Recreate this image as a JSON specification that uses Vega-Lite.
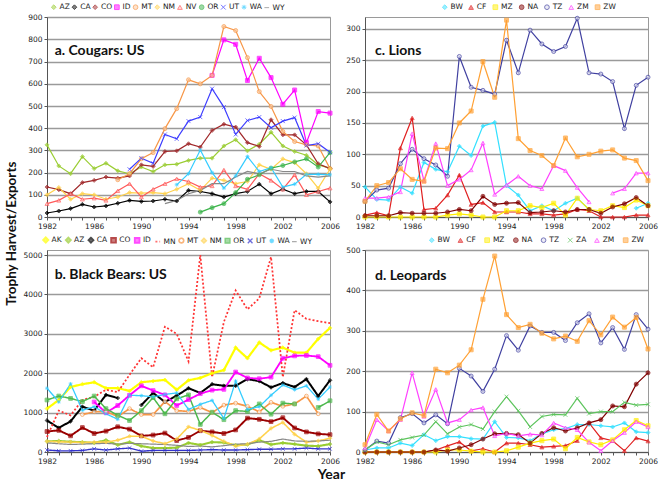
{
"$schema":"https://vega.github.io/schema/vega-lite/v6.json",
"padding":{"left":4,"top":2,"right":2,"bottom":2},
"background":"white",
"config":{
 "font":"DejaVu Sans",
 "view":{"stroke":"#9a9a9a","strokeWidth":1},
 "axis":{"labelFont":"DejaVu Sans","labelFontSize":7.5,"labelColor":"#222","tickColor":"#555","domainColor":"#555","tickSize":3,"labelPadding":2,"gridColor":"#9a9a9a","gridWidth":1.4,"title":null,"labelOverlap":false},
 "legend":{"labelFont":"DejaVu Sans","labelFontSize":7.5,"labelColor":"#222"}
},
"datasets":{
"cougars":[
{"yr":1982,"s":"AZ","v":325},{"yr":1983,"s":"AZ","v":230},{"yr":1984,"s":"AZ","v":195},{"yr":1985,"s":"AZ","v":272},{"yr":1986,"s":"AZ","v":218},{"yr":1987,"s":"AZ","v":242},{"yr":1988,"s":"AZ","v":208},{"yr":1989,"s":"AZ","v":195},{"yr":1990,"s":"AZ","v":225},{"yr":1991,"s":"AZ","v":205},{"yr":1992,"s":"AZ","v":235},{"yr":1993,"s":"AZ","v":238},{"yr":1994,"s":"AZ","v":255},{"yr":1995,"s":"AZ","v":265},{"yr":1996,"s":"AZ","v":265},{"yr":1997,"s":"AZ","v":320},{"yr":1998,"s":"AZ","v":348},{"yr":1999,"s":"AZ","v":298},{"yr":2000,"s":"AZ","v":328},{"yr":2001,"s":"AZ","v":382},{"yr":2002,"s":"AZ","v":320},{"yr":2003,"s":"AZ","v":295},{"yr":2004,"s":"AZ","v":278},{"yr":2005,"s":"AZ","v":235},{"yr":2006,"s":"AZ","v":220},
{"yr":1982,"s":"CA","v":18},{"yr":1983,"s":"CA","v":27},{"yr":1984,"s":"CA","v":38},{"yr":1985,"s":"CA","v":57},{"yr":1986,"s":"CA","v":45},{"yr":1987,"s":"CA","v":50},{"yr":1988,"s":"CA","v":62},{"yr":1989,"s":"CA","v":75},{"yr":1990,"s":"CA","v":70},{"yr":1991,"s":"CA","v":72},{"yr":1992,"s":"CA","v":80},{"yr":1993,"s":"CA","v":72},{"yr":1994,"s":"CA","v":120},{"yr":1995,"s":"CA","v":115},{"yr":1996,"s":"CA","v":105},{"yr":1997,"s":"CA","v":90},{"yr":1998,"s":"CA","v":105},{"yr":1999,"s":"CA","v":115},{"yr":2000,"s":"CA","v":148},{"yr":2001,"s":"CA","v":105},{"yr":2002,"s":"CA","v":125},{"yr":2003,"s":"CA","v":105},{"yr":2004,"s":"CA","v":115},{"yr":2005,"s":"CA","v":115},{"yr":2006,"s":"CA","v":68},
{"yr":1982,"s":"CO","v":135},{"yr":1983,"s":"CO","v":123},{"yr":1984,"s":"CO","v":105},{"yr":1985,"s":"CO","v":155},{"yr":1986,"s":"CO","v":165},{"yr":1987,"s":"CO","v":180},{"yr":1988,"s":"CO","v":175},{"yr":1989,"s":"CO","v":185},{"yr":1990,"s":"CO","v":235},{"yr":1991,"s":"CO","v":228},{"yr":1992,"s":"CO","v":295},{"yr":1993,"s":"CO","v":298},{"yr":1994,"s":"CO","v":330},{"yr":1995,"s":"CO","v":315},{"yr":1996,"s":"CO","v":390},{"yr":1997,"s":"CO","v":418},{"yr":1998,"s":"CO","v":405},{"yr":1999,"s":"CO","v":335},{"yr":2000,"s":"CO","v":318},{"yr":2001,"s":"CO","v":438},{"yr":2002,"s":"CO","v":370},{"yr":2003,"s":"CO","v":370},{"yr":2004,"s":"CO","v":325},{"yr":2005,"s":"CO","v":240},{"yr":2006,"s":"CO","v":218},
{"yr":1996,"s":"ID","v":638},{"yr":1997,"s":"ID","v":798},{"yr":1998,"s":"ID","v":778},{"yr":1999,"s":"ID","v":615},{"yr":2000,"s":"ID","v":715},{"yr":2001,"s":"ID","v":628},{"yr":2002,"s":"ID","v":508},{"yr":2003,"s":"ID","v":572},{"yr":2004,"s":"ID","v":335},{"yr":2005,"s":"ID","v":475},{"yr":2006,"s":"ID","v":468},
{"yr":1988,"s":"MT","v":168},{"yr":1989,"s":"MT","v":195},{"yr":1990,"s":"MT","v":262},{"yr":1991,"s":"MT","v":290},{"yr":1992,"s":"MT","v":398},{"yr":1993,"s":"MT","v":488},{"yr":1994,"s":"MT","v":618},{"yr":1995,"s":"MT","v":600},{"yr":1996,"s":"MT","v":638},{"yr":1997,"s":"MT","v":858},{"yr":1998,"s":"MT","v":840},{"yr":1999,"s":"MT","v":718},{"yr":2000,"s":"MT","v":565},{"yr":2001,"s":"MT","v":498},{"yr":2002,"s":"MT","v":385},{"yr":2003,"s":"MT","v":340},{"yr":2004,"s":"MT","v":325},{"yr":2005,"s":"MT","v":320},{"yr":2006,"s":"MT","v":218},
{"yr":1982,"s":"NM","v":100},{"yr":1983,"s":"NM","v":133},{"yr":1984,"s":"NM","v":80},{"yr":1985,"s":"NM","v":105},{"yr":1986,"s":"NM","v":100},{"yr":1987,"s":"NM","v":80},{"yr":1988,"s":"NM","v":90},{"yr":1989,"s":"NM","v":110},{"yr":1990,"s":"NM","v":108},{"yr":1991,"s":"NM","v":110},{"yr":1992,"s":"NM","v":105},{"yr":1993,"s":"NM","v":125},{"yr":1994,"s":"NM","v":150},{"yr":1995,"s":"NM","v":120},{"yr":1996,"s":"NM","v":175},{"yr":1997,"s":"NM","v":165},{"yr":1998,"s":"NM","v":150},{"yr":1999,"s":"NM","v":160},{"yr":2000,"s":"NM","v":235},{"yr":2001,"s":"NM","v":215},{"yr":2002,"s":"NM","v":262},{"yr":2003,"s":"NM","v":245},{"yr":2004,"s":"NM","v":195},{"yr":2005,"s":"NM","v":130},{"yr":2006,"s":"NM","v":215},
{"yr":1982,"s":"NV","v":60},{"yr":1983,"s":"NV","v":75},{"yr":1984,"s":"NV","v":105},{"yr":1985,"s":"NV","v":80},{"yr":1986,"s":"NV","v":85},{"yr":1987,"s":"NV","v":75},{"yr":1988,"s":"NV","v":118},{"yr":1989,"s":"NV","v":150},{"yr":1990,"s":"NV","v":90},{"yr":1991,"s":"NV","v":125},{"yr":1992,"s":"NV","v":150},{"yr":1993,"s":"NV","v":172},{"yr":1994,"s":"NV","v":160},{"yr":1995,"s":"NV","v":135},{"yr":1996,"s":"NV","v":140},{"yr":1997,"s":"NV","v":212},{"yr":1998,"s":"NV","v":140},{"yr":1999,"s":"NV","v":125},{"yr":2000,"s":"NV","v":195},{"yr":2001,"s":"NV","v":165},{"yr":2002,"s":"NV","v":125},{"yr":2003,"s":"NV","v":190},{"yr":2004,"s":"NV","v":100},{"yr":2005,"s":"NV","v":115},{"yr":2006,"s":"NV","v":130},
{"yr":1995,"s":"OR","v":22},{"yr":1996,"s":"OR","v":42},{"yr":1997,"s":"OR","v":60},{"yr":1998,"s":"OR","v":110},{"yr":1999,"s":"OR","v":170},{"yr":2000,"s":"OR","v":190},{"yr":2001,"s":"OR","v":220},{"yr":2002,"s":"OR","v":232},{"yr":2003,"s":"OR","v":248},{"yr":2004,"s":"OR","v":262},{"yr":2005,"s":"OR","v":225},{"yr":2006,"s":"OR","v":290},
{"yr":1989,"s":"UT","v":215},{"yr":1990,"s":"UT","v":265},{"yr":1991,"s":"UT","v":242},{"yr":1992,"s":"UT","v":372},{"yr":1993,"s":"UT","v":352},{"yr":1994,"s":"UT","v":432},{"yr":1995,"s":"UT","v":450},{"yr":1996,"s":"UT","v":578},{"yr":1997,"s":"UT","v":495},{"yr":1998,"s":"UT","v":372},{"yr":1999,"s":"UT","v":435},{"yr":2000,"s":"UT","v":450},{"yr":2001,"s":"UT","v":402},{"yr":2002,"s":"UT","v":432},{"yr":2003,"s":"UT","v":448},{"yr":2004,"s":"UT","v":322},{"yr":2005,"s":"UT","v":330},{"yr":2006,"s":"UT","v":292},
{"yr":1993,"s":"WA","v":145},{"yr":1994,"s":"WA","v":195},{"yr":1995,"s":"WA","v":302},{"yr":1996,"s":"WA","v":200},{"yr":1997,"s":"WA","v":130},{"yr":1998,"s":"WA","v":185},{"yr":1999,"s":"WA","v":272},{"yr":2000,"s":"WA","v":205},{"yr":2001,"s":"WA","v":222},{"yr":2002,"s":"WA","v":135},{"yr":2003,"s":"WA","v":148},{"yr":2004,"s":"WA","v":192},{"yr":2005,"s":"WA","v":192},{"yr":2006,"s":"WA","v":190},
{"yr":1992,"s":"WY","v":60},{"yr":1993,"s":"WY","v":75},{"yr":1994,"s":"WY","v":105},{"yr":1995,"s":"WY","v":120},{"yr":1996,"s":"WY","v":150},{"yr":1997,"s":"WY","v":150},{"yr":1998,"s":"WY","v":180},{"yr":1999,"s":"WY","v":205},{"yr":2000,"s":"WY","v":195},{"yr":2001,"s":"WY","v":215},{"yr":2002,"s":"WY","v":205},{"yr":2003,"s":"WY","v":205},{"yr":2004,"s":"WY","v":185},{"yr":2005,"s":"WY","v":180},{"yr":2006,"s":"WY","v":185}
],
"bears":[
{"yr":1982,"s":"AK","v":1100},{"yr":1983,"s":"AK","v":1320},{"yr":1984,"s":"AK","v":1650},{"yr":1985,"s":"AK","v":1720},{"yr":1986,"s":"AK","v":1770},{"yr":1987,"s":"AK","v":1620},{"yr":1988,"s":"AK","v":1620},{"yr":1989,"s":"AK","v":1550},{"yr":1990,"s":"AK","v":1770},{"yr":1991,"s":"AK","v":1800},{"yr":1992,"s":"AK","v":1830},{"yr":1993,"s":"AK","v":1580},{"yr":1994,"s":"AK","v":1820},{"yr":1995,"s":"AK","v":1880},{"yr":1996,"s":"AK","v":2000},{"yr":1997,"s":"AK","v":2080},{"yr":1998,"s":"AK","v":2650},{"yr":1999,"s":"AK","v":2380},{"yr":2000,"s":"AK","v":2780},{"yr":2001,"s":"AK","v":2580},{"yr":2002,"s":"AK","v":2650},{"yr":2003,"s":"AK","v":2520},{"yr":2004,"s":"AK","v":2520},{"yr":2005,"s":"AK","v":2870},{"yr":2006,"s":"AK","v":3150},
{"yr":1982,"s":"AZ","v":270},{"yr":1983,"s":"AZ","v":280},{"yr":1984,"s":"AZ","v":260},{"yr":1985,"s":"AZ","v":250},{"yr":1986,"s":"AZ","v":230},{"yr":1987,"s":"AZ","v":300},{"yr":1988,"s":"AZ","v":180},{"yr":1989,"s":"AZ","v":250},{"yr":1990,"s":"AZ","v":150},{"yr":1991,"s":"AZ","v":100},{"yr":1992,"s":"AZ","v":100},{"yr":1993,"s":"AZ","v":110},{"yr":1994,"s":"AZ","v":230},{"yr":1995,"s":"AZ","v":180},{"yr":1996,"s":"AZ","v":250},{"yr":1997,"s":"AZ","v":240},{"yr":1998,"s":"AZ","v":170},{"yr":1999,"s":"AZ","v":190},{"yr":2000,"s":"AZ","v":300},{"yr":2001,"s":"AZ","v":190},{"yr":2002,"s":"AZ","v":230},{"yr":2003,"s":"AZ","v":200},{"yr":2004,"s":"AZ","v":160},{"yr":2005,"s":"AZ","v":150},{"yr":2006,"s":"AZ","v":200},
{"yr":1982,"s":"CA","v":800},{"yr":1983,"s":"CA","v":610},{"yr":1984,"s":"CA","v":780},{"yr":1985,"s":"CA","v":1150},{"yr":1986,"s":"CA","v":1050},{"yr":1987,"s":"CA","v":1450},{"yr":1988,"s":"CA","v":1370},{"yr":1989,"s":"CA","v":null},{"yr":1990,"s":"CA","v":1190},{"yr":1991,"s":"CA","v":1500},{"yr":1992,"s":"CA","v":1270},{"yr":1993,"s":"CA","v":1430},{"yr":1994,"s":"CA","v":1620},{"yr":1995,"s":"CA","v":1500},{"yr":1996,"s":"CA","v":1720},{"yr":1997,"s":"CA","v":1680},{"yr":1998,"s":"CA","v":1680},{"yr":1999,"s":"CA","v":1850},{"yr":2000,"s":"CA","v":1800},{"yr":2001,"s":"CA","v":1640},{"yr":2002,"s":"CA","v":1750},{"yr":2003,"s":"CA","v":1650},{"yr":2004,"s":"CA","v":1850},{"yr":2005,"s":"CA","v":1420},{"yr":2006,"s":"CA","v":1820},
{"yr":1982,"s":"CO","v":520},{"yr":1983,"s":"CO","v":550},{"yr":1984,"s":"CO","v":410},{"yr":1985,"s":"CO","v":620},{"yr":1986,"s":"CO","v":470},{"yr":1987,"s":"CO","v":530},{"yr":1988,"s":"CO","v":640},{"yr":1989,"s":"CO","v":580},{"yr":1990,"s":"CO","v":410},{"yr":1991,"s":"CO","v":430},{"yr":1992,"s":"CO","v":480},{"yr":1993,"s":"CO","v":290},{"yr":1994,"s":"CO","v":370},{"yr":1995,"s":"CO","v":540},{"yr":1996,"s":"CO","v":510},{"yr":1997,"s":"CO","v":470},{"yr":1998,"s":"CO","v":560},{"yr":1999,"s":"CO","v":860},{"yr":2000,"s":"CO","v":830},{"yr":2001,"s":"CO","v":770},{"yr":2002,"s":"CO","v":870},{"yr":2003,"s":"CO","v":610},{"yr":2004,"s":"CO","v":510},{"yr":2005,"s":"CO","v":460},{"yr":2006,"s":"CO","v":440},
{"yr":1986,"s":"ID","v":1270},{"yr":1987,"s":"ID","v":1000},{"yr":1988,"s":"ID","v":1180},{"yr":1989,"s":"ID","v":1440},{"yr":1990,"s":"ID","v":1680},{"yr":1991,"s":"ID","v":1560},{"yr":1992,"s":"ID","v":1450},{"yr":1993,"s":"ID","v":1180},{"yr":1994,"s":"ID","v":1330},{"yr":1995,"s":"ID","v":1480},{"yr":1996,"s":"ID","v":1570},{"yr":1997,"s":"ID","v":1590},{"yr":1998,"s":"ID","v":2030},{"yr":1999,"s":"ID","v":1880},{"yr":2000,"s":"ID","v":1860},{"yr":2001,"s":"ID","v":1900},{"yr":2002,"s":"ID","v":2380},{"yr":2003,"s":"ID","v":2440},{"yr":2004,"s":"ID","v":2450},{"yr":2005,"s":"ID","v":2420},{"yr":2006,"s":"ID","v":2200},
{"yr":1982,"s":"MN","v":380},{"yr":1983,"s":"MN","v":1050},{"yr":1984,"s":"MN","v":930},{"yr":1985,"s":"MN","v":1320},{"yr":1986,"s":"MN","v":1400},{"yr":1987,"s":"MN","v":1580},{"yr":1988,"s":"MN","v":1520},{"yr":1989,"s":"MN","v":1960},{"yr":1990,"s":"MN","v":2380},{"yr":1991,"s":"MN","v":2150},{"yr":1992,"s":"MN","v":3180},{"yr":1993,"s":"MN","v":3000},{"yr":1994,"s":"MN","v":2300},{"yr":1995,"s":"MN","v":5000},{"yr":1996,"s":"MN","v":1900},{"yr":1997,"s":"MN","v":3300},{"yr":1998,"s":"MN","v":4100},{"yr":1999,"s":"MN","v":3620},{"yr":2000,"s":"MN","v":3900},{"yr":2001,"s":"MN","v":4950},{"yr":2002,"s":"MN","v":1900},{"yr":2003,"s":"MN","v":3600},{"yr":2004,"s":"MN","v":3380},{"yr":2005,"s":"MN","v":3320},{"yr":2006,"s":"MN","v":3270},
{"yr":1985,"s":"MT","v":950},{"yr":1986,"s":"MT","v":1020},{"yr":1987,"s":"MT","v":1030},{"yr":1988,"s":"MT","v":900},{"yr":1989,"s":"MT","v":1100},{"yr":1990,"s":"MT","v":950},{"yr":1991,"s":"MT","v":950},{"yr":1992,"s":"MT","v":1280},{"yr":1993,"s":"MT","v":1050},{"yr":1994,"s":"MT","v":1030},{"yr":1995,"s":"MT","v":1130},{"yr":1996,"s":"MT","v":1000},{"yr":1997,"s":"MT","v":1190},{"yr":1998,"s":"MT","v":1240},{"yr":1999,"s":"MT","v":1160},{"yr":2000,"s":"MT","v":1020},{"yr":2001,"s":"MT","v":1260},{"yr":2002,"s":"MT","v":1160},{"yr":2003,"s":"MT","v":1220},{"yr":2004,"s":"MT","v":1420},{"yr":2005,"s":"MT","v":970},
{"yr":1982,"s":"NM","v":270},{"yr":1983,"s":"NM","v":260},{"yr":1984,"s":"NM","v":250},{"yr":1985,"s":"NM","v":240},{"yr":1986,"s":"NM","v":250},{"yr":1987,"s":"NM","v":250},{"yr":1988,"s":"NM","v":300},{"yr":1989,"s":"NM","v":400},{"yr":1990,"s":"NM","v":400},{"yr":1991,"s":"NM","v":280},{"yr":1992,"s":"NM","v":210},{"yr":1993,"s":"NM","v":330},{"yr":1994,"s":"NM","v":640},{"yr":1995,"s":"NM","v":550},{"yr":1996,"s":"NM","v":420},{"yr":1997,"s":"NM","v":270},{"yr":1998,"s":"NM","v":150},{"yr":1999,"s":"NM","v":200},{"yr":2000,"s":"NM","v":330},{"yr":2001,"s":"NM","v":600},{"yr":2002,"s":"NM","v":750},{"yr":2003,"s":"NM","v":450},{"yr":2004,"s":"NM","v":250},{"yr":2005,"s":"NM","v":280},{"yr":2006,"s":"NM","v":350},
{"yr":1982,"s":"OR","v":1320},{"yr":1983,"s":"OR","v":1420},{"yr":1984,"s":"OR","v":1360},{"yr":1985,"s":"OR","v":1280},{"yr":1986,"s":"OR","v":1420},{"yr":1987,"s":"OR","v":1100},{"yr":1988,"s":"OR","v":930},{"yr":1989,"s":"OR","v":800},{"yr":1990,"s":"OR","v":1050},{"yr":1991,"s":"OR","v":1380},{"yr":1992,"s":"OR","v":970},{"yr":1993,"s":"OR","v":1350},{"yr":1994,"s":"OR","v":1450},{"yr":1995,"s":"OR","v":700},{"yr":1996,"s":"OR","v":1010},{"yr":1997,"s":"OR","v":820},{"yr":1998,"s":"OR","v":1050},{"yr":1999,"s":"OR","v":1030},{"yr":2000,"s":"OR","v":1220},{"yr":2001,"s":"OR","v":960},{"yr":2002,"s":"OR","v":1240},{"yr":2003,"s":"OR","v":1220},{"yr":2004,"s":"OR","v":null},{"yr":2005,"s":"OR","v":1130},{"yr":2006,"s":"OR","v":1300},
{"yr":1982,"s":"UT","v":50},{"yr":1983,"s":"UT","v":30},{"yr":1984,"s":"UT","v":30},{"yr":1985,"s":"UT","v":40},{"yr":1986,"s":"UT","v":80},{"yr":1987,"s":"UT","v":50},{"yr":1988,"s":"UT","v":80},{"yr":1989,"s":"UT","v":100},{"yr":1990,"s":"UT","v":20},{"yr":1991,"s":"UT","v":40},{"yr":1992,"s":"UT","v":40},{"yr":1993,"s":"UT","v":40},{"yr":1994,"s":"UT","v":40},{"yr":1995,"s":"UT","v":50},{"yr":1996,"s":"UT","v":60},{"yr":1997,"s":"UT","v":50},{"yr":1998,"s":"UT","v":50},{"yr":1999,"s":"UT","v":60},{"yr":2000,"s":"UT","v":70},{"yr":2001,"s":"UT","v":70},{"yr":2002,"s":"UT","v":80},{"yr":2003,"s":"UT","v":80},{"yr":2004,"s":"UT","v":100},{"yr":2005,"s":"UT","v":80},{"yr":2006,"s":"UT","v":80},
{"yr":1982,"s":"WA","v":1620},{"yr":1983,"s":"WA","v":1270},{"yr":1984,"s":"WA","v":1730},{"yr":1985,"s":"WA","v":1060},{"yr":1986,"s":"WA","v":1150},{"yr":1987,"s":"WA","v":970},{"yr":1988,"s":"WA","v":830},{"yr":1989,"s":"WA","v":1440},{"yr":1990,"s":"WA","v":1430},{"yr":1991,"s":"WA","v":1400},{"yr":1992,"s":"WA","v":1460},{"yr":1993,"s":"WA","v":1500},{"yr":1994,"s":"WA","v":1080},{"yr":1995,"s":"WA","v":1210},{"yr":1996,"s":"WA","v":1310},{"yr":1997,"s":"WA","v":850},{"yr":1998,"s":"WA","v":1800},{"yr":1999,"s":"WA","v":1080},{"yr":2000,"s":"WA","v":1150},{"yr":2001,"s":"WA","v":1440},{"yr":2002,"s":"WA","v":1700},{"yr":2003,"s":"WA","v":1580},{"yr":2004,"s":"WA","v":1680},{"yr":2005,"s":"WA","v":1340},{"yr":2006,"s":"WA","v":1650},
{"yr":1982,"s":"WY","v":230},{"yr":1983,"s":"WY","v":210},{"yr":1984,"s":"WY","v":190},{"yr":1985,"s":"WY","v":200},{"yr":1986,"s":"WY","v":210},{"yr":1987,"s":"WY","v":220},{"yr":1988,"s":"WY","v":200},{"yr":1989,"s":"WY","v":220},{"yr":1990,"s":"WY","v":210},{"yr":1991,"s":"WY","v":200},{"yr":1992,"s":"WY","v":190},{"yr":1993,"s":"WY","v":170},{"yr":1994,"s":"WY","v":140},{"yr":1995,"s":"WY","v":150},{"yr":1996,"s":"WY","v":130},{"yr":1997,"s":"WY","v":160},{"yr":1998,"s":"WY","v":200},{"yr":1999,"s":"WY","v":210},{"yr":2000,"s":"WY","v":250},{"yr":2001,"s":"WY","v":270},{"yr":2002,"s":"WY","v":330},{"yr":2003,"s":"WY","v":280},{"yr":2004,"s":"WY","v":270},{"yr":2005,"s":"WY","v":280},{"yr":2006,"s":"WY","v":300}
],
"lions":[
{"yr":1982,"s":"BW","v":48},{"yr":1983,"s":"BW","v":28},{"yr":1984,"s":"BW","v":27},{"yr":1985,"s":"BW","v":48},{"yr":1986,"s":"BW","v":38},{"yr":1987,"s":"BW","v":87},{"yr":1988,"s":"BW","v":76},{"yr":1989,"s":"BW","v":72},{"yr":1990,"s":"BW","v":113},{"yr":1991,"s":"BW","v":98},{"yr":1992,"s":"BW","v":145},{"yr":1993,"s":"BW","v":151},{"yr":1994,"s":"BW","v":50},{"yr":1995,"s":"BW","v":35},{"yr":1996,"s":"BW","v":10},{"yr":1997,"s":"BW","v":18},{"yr":1998,"s":"BW","v":10},{"yr":1999,"s":"BW","v":22},{"yr":2000,"s":"BW","v":30},{"yr":2001,"s":"BW","v":12},{"yr":2002,"s":"BW","v":null},{"yr":2005,"s":"BW","v":14},{"yr":2006,"s":"BW","v":22},
{"yr":1982,"s":"CF","v":3},{"yr":1983,"s":"CF","v":7},{"yr":1984,"s":"CF","v":2},{"yr":1985,"s":"CF","v":110},{"yr":1986,"s":"CF","v":158},{"yr":1987,"s":"CF","v":12},{"yr":1988,"s":"CF","v":14},{"yr":1989,"s":"CF","v":35},{"yr":1990,"s":"CF","v":67},{"yr":1991,"s":"CF","v":20},{"yr":1992,"s":"CF","v":23},{"yr":1993,"s":"CF","v":8},{"yr":1994,"s":"CF","v":8},{"yr":1995,"s":"CF","v":8},{"yr":1996,"s":"CF","v":5},{"yr":1997,"s":"CF","v":5},{"yr":1998,"s":"CF","v":3},{"yr":1999,"s":"CF","v":5},{"yr":2000,"s":"CF","v":12},{"yr":2001,"s":"CF","v":10},{"yr":2002,"s":"CF","v":0},{"yr":2003,"s":"CF","v":0},{"yr":2004,"s":"CF","v":0},{"yr":2005,"s":"CF","v":3},{"yr":2006,"s":"CF","v":3},
{"yr":1982,"s":"MZ","v":0},{"yr":1983,"s":"MZ","v":0},{"yr":1984,"s":"MZ","v":0},{"yr":1985,"s":"MZ","v":0},{"yr":1986,"s":"MZ","v":0},{"yr":1987,"s":"MZ","v":0},{"yr":1988,"s":"MZ","v":0},{"yr":1989,"s":"MZ","v":3},{"yr":1990,"s":"MZ","v":5},{"yr":1991,"s":"MZ","v":3},{"yr":1992,"s":"MZ","v":0},{"yr":1993,"s":"MZ","v":0},{"yr":1994,"s":"MZ","v":10},{"yr":1995,"s":"MZ","v":10},{"yr":1996,"s":"MZ","v":18},{"yr":1997,"s":"MZ","v":15},{"yr":1998,"s":"MZ","v":22},{"yr":1999,"s":"MZ","v":3},{"yr":2000,"s":"MZ","v":30},{"yr":2001,"s":"MZ","v":12},{"yr":2002,"s":"MZ","v":10},{"yr":2003,"s":"MZ","v":18},{"yr":2004,"s":"MZ","v":15},{"yr":2005,"s":"MZ","v":27},{"yr":2006,"s":"MZ","v":18},
{"yr":1982,"s":"NA","v":2},{"yr":1983,"s":"NA","v":2},{"yr":1984,"s":"NA","v":2},{"yr":1985,"s":"NA","v":7},{"yr":1986,"s":"NA","v":6},{"yr":1987,"s":"NA","v":6},{"yr":1988,"s":"NA","v":6},{"yr":1989,"s":"NA","v":8},{"yr":1990,"s":"NA","v":12},{"yr":1991,"s":"NA","v":10},{"yr":1992,"s":"NA","v":33},{"yr":1993,"s":"NA","v":20},{"yr":1994,"s":"NA","v":22},{"yr":1995,"s":"NA","v":23},{"yr":1996,"s":"NA","v":7},{"yr":1997,"s":"NA","v":8},{"yr":1998,"s":"NA","v":10},{"yr":1999,"s":"NA","v":8},{"yr":2000,"s":"NA","v":12},{"yr":2001,"s":"NA","v":12},{"yr":2002,"s":"NA","v":6},{"yr":2003,"s":"NA","v":16},{"yr":2004,"s":"NA","v":21},{"yr":2005,"s":"NA","v":31},{"yr":2006,"s":"NA","v":18},
{"yr":1982,"s":"TZ","v":25},{"yr":1983,"s":"TZ","v":43},{"yr":1984,"s":"TZ","v":46},{"yr":1985,"s":"TZ","v":85},{"yr":1986,"s":"TZ","v":108},{"yr":1987,"s":"TZ","v":93},{"yr":1988,"s":"TZ","v":83},{"yr":1989,"s":"TZ","v":65},{"yr":1990,"s":"TZ","v":256},{"yr":1991,"s":"TZ","v":207},{"yr":1992,"s":"TZ","v":202},{"yr":1993,"s":"TZ","v":196},{"yr":1994,"s":"TZ","v":282},{"yr":1995,"s":"TZ","v":230},{"yr":1996,"s":"TZ","v":298},{"yr":1997,"s":"TZ","v":276},{"yr":1998,"s":"TZ","v":264},{"yr":1999,"s":"TZ","v":272},{"yr":2000,"s":"TZ","v":317},{"yr":2001,"s":"TZ","v":230},{"yr":2002,"s":"TZ","v":228},{"yr":2003,"s":"TZ","v":216},{"yr":2004,"s":"TZ","v":141},{"yr":2005,"s":"TZ","v":210},{"yr":2006,"s":"TZ","v":223},
{"yr":1982,"s":"ZM","v":30},{"yr":1983,"s":"ZM","v":30},{"yr":1984,"s":"ZM","v":32},{"yr":1985,"s":"ZM","v":40},{"yr":1986,"s":"ZM","v":133},{"yr":1987,"s":"ZM","v":58},{"yr":1988,"s":"ZM","v":117},{"yr":1989,"s":"ZM","v":50},{"yr":1990,"s":"ZM","v":60},{"yr":1991,"s":"ZM","v":75},{"yr":1992,"s":"ZM","v":118},{"yr":1993,"s":"ZM","v":36},{"yr":1994,"s":"ZM","v":51},{"yr":1995,"s":"ZM","v":65},{"yr":1996,"s":"ZM","v":50},{"yr":1997,"s":"ZM","v":45},{"yr":1998,"s":"ZM","v":82},{"yr":1999,"s":"ZM","v":74},{"yr":2000,"s":"ZM","v":47},{"yr":2001,"s":"ZM","v":24},{"yr":2002,"s":"ZM","v":null},{"yr":2003,"s":"ZM","v":38},{"yr":2004,"s":"ZM","v":45},{"yr":2005,"s":"ZM","v":70},{"yr":2006,"s":"ZM","v":70},
{"yr":1982,"s":"ZW","v":25},{"yr":1983,"s":"ZW","v":50},{"yr":1984,"s":"ZW","v":55},{"yr":1985,"s":"ZW","v":77},{"yr":1986,"s":"ZW","v":60},{"yr":1987,"s":"ZW","v":57},{"yr":1988,"s":"ZW","v":110},{"yr":1989,"s":"ZW","v":109},{"yr":1990,"s":"ZW","v":150},{"yr":1991,"s":"ZW","v":169},{"yr":1992,"s":"ZW","v":248},{"yr":1993,"s":"ZW","v":191},{"yr":1994,"s":"ZW","v":314},{"yr":1995,"s":"ZW","v":125},{"yr":1996,"s":"ZW","v":106},{"yr":1997,"s":"ZW","v":98},{"yr":1998,"s":"ZW","v":82},{"yr":1999,"s":"ZW","v":126},{"yr":2000,"s":"ZW","v":96},{"yr":2001,"s":"ZW","v":100},{"yr":2002,"s":"ZW","v":105},{"yr":2003,"s":"ZW","v":107},{"yr":2004,"s":"ZW","v":94},{"yr":2005,"s":"ZW","v":90},{"yr":2006,"s":"ZW","v":58}
],
"leopards":[
{"yr":1982,"s":"BW","v":5},{"yr":1983,"s":"BW","v":10},{"yr":1984,"s":"BW","v":10},{"yr":1985,"s":"BW","v":22},{"yr":1986,"s":"BW","v":16},{"yr":1987,"s":"BW","v":43},{"yr":1988,"s":"BW","v":28},{"yr":1989,"s":"BW","v":38},{"yr":1990,"s":"BW","v":38},{"yr":1991,"s":"BW","v":33},{"yr":1992,"s":"BW","v":32},{"yr":1993,"s":"BW","v":75},{"yr":1994,"s":"BW","v":36},{"yr":1995,"s":"BW","v":35},{"yr":1996,"s":"BW","v":28},{"yr":1997,"s":"BW","v":45},{"yr":1998,"s":"BW","v":55},{"yr":1999,"s":"BW","v":58},{"yr":2000,"s":"BW","v":68},{"yr":2001,"s":"BW","v":68},{"yr":2002,"s":"BW","v":65},{"yr":2003,"s":"BW","v":62},{"yr":2004,"s":"BW","v":72},{"yr":2005,"s":"BW","v":50},{"yr":2006,"s":"BW","v":48},
{"yr":1982,"s":"CF","v":0},{"yr":1983,"s":"CF","v":0},{"yr":1984,"s":"CF","v":0},{"yr":1985,"s":"CF","v":0},{"yr":1986,"s":"CF","v":0},{"yr":1987,"s":"CF","v":0},{"yr":1988,"s":"CF","v":5},{"yr":1989,"s":"CF","v":15},{"yr":1990,"s":"CF","v":25},{"yr":1991,"s":"CF","v":3},{"yr":1992,"s":"CF","v":8},{"yr":1993,"s":"CF","v":0},{"yr":1994,"s":"CF","v":22},{"yr":1995,"s":"CF","v":22},{"yr":1996,"s":"CF","v":18},{"yr":1997,"s":"CF","v":12},{"yr":1998,"s":"CF","v":14},{"yr":1999,"s":"CF","v":16},{"yr":2000,"s":"CF","v":28},{"yr":2001,"s":"CF","v":72},{"yr":2002,"s":"CF","v":35},{"yr":2003,"s":"CF","v":28},{"yr":2004,"s":"CF","v":3},{"yr":2005,"s":"CF","v":35},{"yr":2006,"s":"CF","v":27},
{"yr":1982,"s":"MZ","v":0},{"yr":1983,"s":"MZ","v":0},{"yr":1984,"s":"MZ","v":0},{"yr":1985,"s":"MZ","v":0},{"yr":1986,"s":"MZ","v":0},{"yr":1987,"s":"MZ","v":0},{"yr":1988,"s":"MZ","v":0},{"yr":1989,"s":"MZ","v":5},{"yr":1990,"s":"MZ","v":5},{"yr":1991,"s":"MZ","v":2},{"yr":1992,"s":"MZ","v":0},{"yr":1993,"s":"MZ","v":0},{"yr":1994,"s":"MZ","v":3},{"yr":1995,"s":"MZ","v":12},{"yr":1996,"s":"MZ","v":22},{"yr":1997,"s":"MZ","v":28},{"yr":1998,"s":"MZ","v":32},{"yr":1999,"s":"MZ","v":8},{"yr":2000,"s":"MZ","v":36},{"yr":2001,"s":"MZ","v":25},{"yr":2002,"s":"MZ","v":18},{"yr":2003,"s":"MZ","v":30},{"yr":2004,"s":"MZ","v":55},{"yr":2005,"s":"MZ","v":78},{"yr":2006,"s":"MZ","v":65},
{"yr":1982,"s":"NA","v":0},{"yr":1983,"s":"NA","v":0},{"yr":1984,"s":"NA","v":0},{"yr":1985,"s":"NA","v":0},{"yr":1986,"s":"NA","v":0},{"yr":1987,"s":"NA","v":0},{"yr":1988,"s":"NA","v":5},{"yr":1989,"s":"NA","v":2},{"yr":1990,"s":"NA","v":10},{"yr":1991,"s":"NA","v":18},{"yr":1992,"s":"NA","v":32},{"yr":1993,"s":"NA","v":45},{"yr":1994,"s":"NA","v":46},{"yr":1995,"s":"NA","v":43},{"yr":1996,"s":"NA","v":22},{"yr":1997,"s":"NA","v":46},{"yr":1998,"s":"NA","v":60},{"yr":1999,"s":"NA","v":52},{"yr":2000,"s":"NA","v":60},{"yr":2001,"s":"NA","v":72},{"yr":2002,"s":"NA","v":80},{"yr":2003,"s":"NA","v":114},{"yr":2004,"s":"NA","v":112},{"yr":2005,"s":"NA","v":168},{"yr":2006,"s":"NA","v":196},
{"yr":1982,"s":"TZ","v":5},{"yr":1983,"s":"TZ","v":27},{"yr":1984,"s":"TZ","v":22},{"yr":1985,"s":"TZ","v":85},{"yr":1986,"s":"TZ","v":95},{"yr":1987,"s":"TZ","v":72},{"yr":1988,"s":"TZ","v":92},{"yr":1989,"s":"TZ","v":70},{"yr":1990,"s":"TZ","v":207},{"yr":1991,"s":"TZ","v":188},{"yr":1992,"s":"TZ","v":150},{"yr":1993,"s":"TZ","v":205},{"yr":1994,"s":"TZ","v":288},{"yr":1995,"s":"TZ","v":252},{"yr":1996,"s":"TZ","v":312},{"yr":1997,"s":"TZ","v":296},{"yr":1998,"s":"TZ","v":296},{"yr":1999,"s":"TZ","v":276},{"yr":2000,"s":"TZ","v":320},{"yr":2001,"s":"TZ","v":342},{"yr":2002,"s":"TZ","v":270},{"yr":2003,"s":"TZ","v":308},{"yr":2004,"s":"TZ","v":254},{"yr":2005,"s":"TZ","v":340},{"yr":2006,"s":"TZ","v":304},
{"yr":1982,"s":"ZA","v":5},{"yr":1983,"s":"ZA","v":25},{"yr":1984,"s":"ZA","v":18},{"yr":1985,"s":"ZA","v":30},{"yr":1986,"s":"ZA","v":36},{"yr":1987,"s":"ZA","v":42},{"yr":1988,"s":"ZA","v":75},{"yr":1989,"s":"ZA","v":45},{"yr":1990,"s":"ZA","v":62},{"yr":1991,"s":"ZA","v":68},{"yr":1992,"s":"ZA","v":57},{"yr":1993,"s":"ZA","v":100},{"yr":1994,"s":"ZA","v":137},{"yr":1995,"s":"ZA","v":102},{"yr":1996,"s":"ZA","v":62},{"yr":1997,"s":"ZA","v":88},{"yr":1998,"s":"ZA","v":93},{"yr":1999,"s":"ZA","v":92},{"yr":2000,"s":"ZA","v":133},{"yr":2001,"s":"ZA","v":95},{"yr":2002,"s":"ZA","v":100},{"yr":2003,"s":"ZA","v":100},{"yr":2004,"s":"ZA","v":123},{"yr":2005,"s":"ZA","v":116},{"yr":2006,"s":"ZA","v":118},
{"yr":1982,"s":"ZM","v":10},{"yr":1983,"s":"ZM","v":80},{"yr":1984,"s":"ZM","v":52},{"yr":1985,"s":"ZM","v":80},{"yr":1986,"s":"ZM","v":196},{"yr":1987,"s":"ZM","v":88},{"yr":1988,"s":"ZM","v":155},{"yr":1989,"s":"ZM","v":72},{"yr":1990,"s":"ZM","v":80},{"yr":1991,"s":"ZM","v":104},{"yr":1992,"s":"ZM","v":110},{"yr":1993,"s":"ZM","v":40},{"yr":1994,"s":"ZM","v":46},{"yr":1995,"s":"ZM","v":40},{"yr":1996,"s":"ZM","v":44},{"yr":1997,"s":"ZM","v":42},{"yr":1998,"s":"ZM","v":72},{"yr":1999,"s":"ZM","v":60},{"yr":2000,"s":"ZM","v":55},{"yr":2001,"s":"ZM","v":24},{"yr":2002,"s":"ZM","v":3},{"yr":2003,"s":"ZM","v":28},{"yr":2004,"s":"ZM","v":48},{"yr":2005,"s":"ZM","v":75},{"yr":2006,"s":"ZM","v":62},
{"yr":1982,"s":"ZW","v":18},{"yr":1983,"s":"ZW","v":93},{"yr":1984,"s":"ZW","v":52},{"yr":1985,"s":"ZW","v":82},{"yr":1986,"s":"ZW","v":97},{"yr":1987,"s":"ZW","v":90},{"yr":1988,"s":"ZW","v":205},{"yr":1989,"s":"ZW","v":196},{"yr":1990,"s":"ZW","v":215},{"yr":1991,"s":"ZW","v":253},{"yr":1992,"s":"ZW","v":378},{"yr":1993,"s":"ZW","v":485},{"yr":1994,"s":"ZW","v":340},{"yr":1995,"s":"ZW","v":308},{"yr":1996,"s":"ZW","v":316},{"yr":1997,"s":"ZW","v":294},{"yr":1998,"s":"ZW","v":280},{"yr":1999,"s":"ZW","v":287},{"yr":2000,"s":"ZW","v":274},{"yr":2001,"s":"ZW","v":325},{"yr":2002,"s":"ZW","v":290},{"yr":2003,"s":"ZW","v":334},{"yr":2004,"s":"ZW","v":309},{"yr":2005,"s":"ZW","v":333},{"yr":2006,"s":"ZW","v":255}
]
},
"title":{"text":"Year","orient":"bottom","anchor":"middle","font":"Lato","fontSize":14,"fontWeight":"bold","color":"#111","offset":3},
"vconcat":[{
"title":{"text":"Trophy Harvest/Exports","orient":"left","anchor":"middle","font":"Lato","fontSize":13.5,"fontWeight":"bold","color":"#111","offset":4},
"columns":2,
"bounds":"flush",
"spacing":{"row":33,"column":35},
"resolve":{"scale":{"stroke":"independent","fill":"independent","shape":"independent","strokeDash":"independent","strokeWidth":"independent"},"legend":{"stroke":"independent","fill":"independent","shape":"independent"}},
"concat":[
{
"width":283,"height":200,
"data":{"name":"cougars"},
"layer":[
{"mark":{"type":"line","strokeWidth":1.2,"invalid":"break-paths-show-domains"},
 "encoding":{
  "x":{"field":"yr","type":"quantitative","scale":{"domain":[1982,2006],"nice":false,"zero":false},"axis":{"values":[1982,1983,1984,1985,1986,1987,1988,1989,1990,1991,1992,1993,1994,1995,1996,1997,1998,1999,2000,2001,2002,2003,2004,2005,2006],"tickCount":40,"format":"d","labelExpr":"(datum.value-1982)%4==0 ? datum.label : ''","grid":false,"labelFlush":false}},
  "y":{"field":"v","type":"quantitative","scale":{"domain":[0,901],"nice":false},"axis":{"values":[0,100,200,300,400,500,600,700,800,900],"tickCount":40,"format":"d"}},
  "stroke":{"field":"s","type":"nominal","scale":{"domain":["AZ","CA","CO","ID","MT","NM","NV","OR","UT","WA","WY"],"range":["#9acd32","#000000","#a0282a","#ff00ff","#f79646","#ffd24d","#ff5a5a","#3cb44b","#3c3cff","#33ccff","#888888"]},"legend":{"orient":"none","legendX":3,"legendY":-14,"direction":"horizontal","title":null,"symbolSize":22,"symbolStrokeWidth":1,"labelOffset":2,"columnPadding":-0.3}}
 }},
{"transform":[{"filter":{"not":{"field":"s","equal":"WY"}}}],
 "mark":{"type":"point","filled":true,"size":16,"strokeWidth":1},
 "encoding":{
  "x":{"field":"yr","type":"quantitative","axis":{"values":[1982,1983,1984,1985,1986,1987,1988,1989,1990,1991,1992,1993,1994,1995,1996,1997,1998,1999,2000,2001,2002,2003,2004,2005,2006],"tickCount":40,"format":"d","labelExpr":"(datum.value-1982)%4==0 ? datum.label : ''","grid":false,"labelFlush":false}},
  "y":{"field":"v","type":"quantitative","axis":{"values":[0,100,200,300,400,500,600,700,800,900],"tickCount":40,"format":"d"}},
  "stroke":{"field":"s","type":"nominal"},
  "fill":{"field":"s","type":"nominal","scale":{"domain":["AZ","CA","CO","ID","MT","NM","NV","OR","UT","WA","WY"],"range":["#9acd32","#000000","#a0282a","#ff00ff","#fcc89b","#ffd24d","#ffc0c0","#3cb44b","#3c3cff","#33ccff","#888888"]},"legend":{"orient":"none","legendX":3,"legendY":-14,"direction":"horizontal","title":null,"symbolSize":22,"symbolStrokeWidth":1,"labelOffset":2,"columnPadding":-0.3}},
  "shape":{"field":"s","type":"nominal","scale":{"domain":["AZ","CA","CO","ID","MT","NM","NV","OR","UT","WA","WY"],"range":["diamond","diamond","diamond","square","circle","diamond","triangle-up","circle","M-1,-1L1,1M-1,1L1,-1","M-1,0L1,0M0,-1L0,1M-0.7,-0.7L0.7,0.7M-0.7,0.7L0.7,-0.7","stroke"]},"legend":{"orient":"none","legendX":3,"legendY":-14,"direction":"horizontal","title":null,"symbolSize":22,"symbolStrokeWidth":1,"labelOffset":2,"columnPadding":-0.3}}
 }},
{"data":{"values":[{"label":"a. Cougars: US"}]},
 "mark":{"type":"text","align":"left","baseline":"middle","font":"Lato","fontSize":14,"fontWeight":"bold","color":"#111"},
 "encoding":{
  "x":{"datum":1982.65,"type":"quantitative","axis":{"values":[1982,1983,1984,1985,1986,1987,1988,1989,1990,1991,1992,1993,1994,1995,1996,1997,1998,1999,2000,2001,2002,2003,2004,2005,2006],"tickCount":40,"format":"d","labelExpr":"(datum.value-1982)%4==0 ? datum.label : ''","grid":false,"labelFlush":false}},
  "y":{"datum":747,"type":"quantitative","axis":{"values":[0,100,200,300,400,500,600,700,800,900],"tickCount":40,"format":"d"}},
  "text":{"field":"label","type":"nominal"}}}
]
},
{
"width":283,"height":200,
"data":{"name":"lions"},
"layer":[
{"mark":{"type":"line","strokeWidth":1.2,"invalid":"break-paths-show-domains"},
 "encoding":{
  "x":{"field":"yr","type":"quantitative","scale":{"domain":[1982,2006],"nice":false,"zero":false},"axis":{"values":[1982,1983,1984,1985,1986,1987,1988,1989,1990,1991,1992,1993,1994,1995,1996,1997,1998,1999,2000,2001,2002,2003,2004,2005,2006],"tickCount":40,"format":"d","labelExpr":"(datum.value-1982)%4==0 ? datum.label : ''","grid":false,"labelFlush":false}},
  "y":{"field":"v","type":"quantitative","scale":{"domain":[0,319],"nice":false},"axis":{"values":[0,50,100,150,200,250,300],"tickCount":40,"format":"d"}},
  "stroke":{"field":"s","type":"nominal","scale":{"domain":["BW","CF","MZ","NA","TZ","ZM","ZW"],"range":["#33e0ff","#e02020","#ffee00","#800000","#4040a0","#ff40ff","#ffa033"]},"legend":{"orient":"none","legendX":76,"legendY":-14,"direction":"horizontal","title":null,"symbolSize":22,"symbolStrokeWidth":1,"labelOffset":2,"columnPadding":3.3}}
 }},
{"mark":{"type":"point","filled":true,"size":16,"strokeWidth":1},
 "encoding":{
  "x":{"field":"yr","type":"quantitative","axis":{"values":[1982,1983,1984,1985,1986,1987,1988,1989,1990,1991,1992,1993,1994,1995,1996,1997,1998,1999,2000,2001,2002,2003,2004,2005,2006],"tickCount":40,"format":"d","labelExpr":"(datum.value-1982)%4==0 ? datum.label : ''","grid":false,"labelFlush":false}},
  "y":{"field":"v","type":"quantitative","axis":{"values":[0,50,100,150,200,250,300],"tickCount":40,"format":"d"}},
  "stroke":{"field":"s","type":"nominal"},
  "fill":{"field":"s","type":"nominal","scale":{"domain":["BW","CF","MZ","NA","TZ","ZM","ZW"],"range":["#33e0ff","#e02020","#ffee00","#800000","#d8d8ee","#ffc8ff","#ffa033"]},"legend":{"orient":"none","legendX":76,"legendY":-14,"direction":"horizontal","title":null,"symbolSize":22,"symbolStrokeWidth":1,"labelOffset":2,"columnPadding":3.3}},
  "shape":{"field":"s","type":"nominal","scale":{"domain":["BW","CF","MZ","NA","TZ","ZM","ZW"],"range":["diamond","triangle-up","square","circle","circle","triangle-up","square"]},"legend":{"orient":"none","legendX":76,"legendY":-14,"direction":"horizontal","title":null,"symbolSize":22,"symbolStrokeWidth":1,"labelOffset":2,"columnPadding":3.3}}
 }},
{"data":{"values":[{"label":"c. Lions"}]},
 "mark":{"type":"text","align":"left","baseline":"middle","font":"Lato","fontSize":14,"fontWeight":"bold","color":"#111"},
 "encoding":{
  "x":{"datum":1982.85,"type":"quantitative","axis":{"values":[1982,1983,1984,1985,1986,1987,1988,1989,1990,1991,1992,1993,1994,1995,1996,1997,1998,1999,2000,2001,2002,2003,2004,2005,2006],"tickCount":40,"format":"d","labelExpr":"(datum.value-1982)%4==0 ? datum.label : ''","grid":false,"labelFlush":false}},
  "y":{"datum":265,"type":"quantitative","axis":{"values":[0,50,100,150,200,250,300],"tickCount":40,"format":"d"}},
  "text":{"field":"label","type":"nominal"}}}
]
},
{
"width":283,"height":202,
"data":{"name":"bears"},
"layer":[
{"mark":{"type":"line","invalid":"break-paths-show-domains"},
 "encoding":{
  "x":{"field":"yr","type":"quantitative","scale":{"domain":[1982,2006],"nice":false,"zero":false},"axis":{"values":[1982,1983,1984,1985,1986,1987,1988,1989,1990,1991,1992,1993,1994,1995,1996,1997,1998,1999,2000,2001,2002,2003,2004,2005,2006],"tickCount":40,"format":"d","labelExpr":"(datum.value-1982)%4==0 ? datum.label : ''","grid":false,"labelFlush":false}},
  "y":{"field":"v","type":"quantitative","scale":{"domain":[0,5127],"nice":false},"axis":{"values":[0,1000,2000,3000,4000,5000],"tickCount":40,"format":"d"}},
  "stroke":{"field":"s","type":"nominal","scale":{"domain":["AK","AZ","CA","CO","ID","MN","MT","NM","OR","UT","WA","WY"],"range":["#ffff00","#9acd32","#000000","#990000","#ff00ff","#ff3333","#f79646","#ffd24d","#4cb84c","#3333cc","#33ccff","#888888"]},"legend":{"orient":"none","legendX":-5,"legendY":-14,"direction":"horizontal","title":null,"symbolSize":22,"symbolStrokeWidth":1,"labelOffset":2,"columnPadding":-0.4}},
  "strokeDash":{"field":"s","type":"nominal","scale":{"domain":["AK","AZ","CA","CO","ID","MN","MT","NM","OR","UT","WA","WY"],"range":[[1,0],[1,0],[1,0],[1,0],[1,0],[2,2],[1,0],[1,0],[1,0],[1,0],[1,0],[1,0]]},"legend":null},
  "strokeWidth":{"field":"s","type":"nominal","scale":{"domain":["AK","AZ","CA","CO","ID","MN","MT","NM","OR","UT","WA","WY"],"range":[2.2,1.2,1.1,1.2,1.2,1.4,1.2,1.4,1.2,1.2,1.2,1.4]},"legend":null}
 }},
{"transform":[{"filter":{"not":{"field":"s","oneOf":["WY","MN"]}}}],
 "mark":{"type":"point","filled":true,"size":14,"strokeWidth":1},
 "encoding":{
  "x":{"field":"yr","type":"quantitative","axis":{"values":[1982,1983,1984,1985,1986,1987,1988,1989,1990,1991,1992,1993,1994,1995,1996,1997,1998,1999,2000,2001,2002,2003,2004,2005,2006],"tickCount":40,"format":"d","labelExpr":"(datum.value-1982)%4==0 ? datum.label : ''","grid":false,"labelFlush":false}},
  "y":{"field":"v","type":"quantitative","axis":{"values":[0,1000,2000,3000,4000,5000],"tickCount":40,"format":"d"}},
  "stroke":{"field":"s","type":"nominal"},
  "fill":{"field":"s","type":"nominal","scale":{"domain":["AK","AZ","CA","CO","ID","MN","MT","NM","OR","UT","WA","WY"],"range":["#ffff00","#9acd32","#000000","#990000","#ff00ff","#ff3333","#ffffff","#ffd24d","#4cb84c","#3333cc","#33ccff","#888888"]},"legend":{"orient":"none","legendX":-5,"legendY":-14,"direction":"horizontal","title":null,"symbolSize":22,"symbolStrokeWidth":1,"labelOffset":2,"columnPadding":-0.4}},
  "shape":{"field":"s","type":"nominal","scale":{"domain":["AK","AZ","CA","CO","ID","MN","MT","NM","OR","UT","WA","WY"],"range":["diamond","diamond","diamond","square","square","stroke","circle","diamond","square","M-1,-1L1,1M-1,1L1,-1","M-1,0L1,0M0,-1L0,1M-0.7,-0.7L0.7,0.7M-0.7,0.7L0.7,-0.7","stroke"]},"legend":{"orient":"none","legendX":-5,"legendY":-14,"direction":"horizontal","title":null,"symbolSize":22,"symbolStrokeWidth":1,"labelOffset":2,"columnPadding":-0.4}}
 }},
{"data":{"values":[{"label":"b. Black Bears: US"}]},
 "mark":{"type":"text","align":"left","baseline":"middle","font":"Lato","fontSize":14,"fontWeight":"bold","color":"#111"},
 "encoding":{
  "x":{"datum":1982.65,"type":"quantitative","axis":{"values":[1982,1983,1984,1985,1986,1987,1988,1989,1990,1991,1992,1993,1994,1995,1996,1997,1998,1999,2000,2001,2002,2003,2004,2005,2006],"tickCount":40,"format":"d","labelExpr":"(datum.value-1982)%4==0 ? datum.label : ''","grid":false,"labelFlush":false}},
  "y":{"datum":4492,"type":"quantitative","axis":{"values":[0,1000,2000,3000,4000,5000],"tickCount":40,"format":"d"}},
  "text":{"field":"label","type":"nominal"}}}
]
},
{
"width":283,"height":202,
"data":{"name":"leopards"},
"layer":[
{"mark":{"type":"line","strokeWidth":1.2,"invalid":"break-paths-show-domains"},
 "encoding":{
  "x":{"field":"yr","type":"quantitative","scale":{"domain":[1982,2006],"nice":false,"zero":false},"axis":{"values":[1982,1983,1984,1985,1986,1987,1988,1989,1990,1991,1992,1993,1994,1995,1996,1997,1998,1999,2000,2001,2002,2003,2004,2005,2006],"tickCount":40,"format":"d","labelExpr":"(datum.value-1982)%4==0 ? datum.label : ''","grid":false,"labelFlush":false}},
  "y":{"field":"v","type":"quantitative","scale":{"domain":[0,500],"nice":false},"axis":{"values":[0,100,200,300,400,500],"tickCount":40,"format":"d"}},
  "stroke":{"field":"s","type":"nominal","scale":{"domain":["BW","CF","MZ","NA","TZ","ZA","ZM","ZW"],"range":["#33e0ff","#e02020","#ffee00","#800000","#4040a0","#5cc45c","#ff40ff","#ffa033"]},"legend":{"orient":"none","legendX":63,"legendY":-14,"direction":"horizontal","title":null,"symbolSize":22,"symbolStrokeWidth":1,"labelOffset":2,"columnPadding":5.7}}
 }},
{"mark":{"type":"point","filled":true,"size":16,"strokeWidth":1},
 "encoding":{
  "x":{"field":"yr","type":"quantitative","axis":{"values":[1982,1983,1984,1985,1986,1987,1988,1989,1990,1991,1992,1993,1994,1995,1996,1997,1998,1999,2000,2001,2002,2003,2004,2005,2006],"tickCount":40,"format":"d","labelExpr":"(datum.value-1982)%4==0 ? datum.label : ''","grid":false,"labelFlush":false}},
  "y":{"field":"v","type":"quantitative","axis":{"values":[0,100,200,300,400,500],"tickCount":40,"format":"d"}},
  "stroke":{"field":"s","type":"nominal"},
  "fill":{"field":"s","type":"nominal","scale":{"domain":["BW","CF","MZ","NA","TZ","ZA","ZM","ZW"],"range":["#33e0ff","#e02020","#ffee00","#800000","#d8d8ee","#5cc45c","#ffc8ff","#ffa033"]},"legend":{"orient":"none","legendX":63,"legendY":-14,"direction":"horizontal","title":null,"symbolSize":22,"symbolStrokeWidth":1,"labelOffset":2,"columnPadding":5.7}},
  "shape":{"field":"s","type":"nominal","scale":{"domain":["BW","CF","MZ","NA","TZ","ZA","ZM","ZW"],"range":["diamond","triangle-up","square","circle","circle","M-1,-1L1,1M-1,1L1,-1","triangle-up","square"]},"legend":{"orient":"none","legendX":63,"legendY":-14,"direction":"horizontal","title":null,"symbolSize":22,"symbolStrokeWidth":1,"labelOffset":2,"columnPadding":5.7}}
 }},
{"data":{"values":[{"label":"d. Leopards"}]},
 "mark":{"type":"text","align":"left","baseline":"middle","font":"Lato","fontSize":14,"fontWeight":"bold","color":"#111"},
 "encoding":{
  "x":{"datum":1982.85,"type":"quantitative","axis":{"values":[1982,1983,1984,1985,1986,1987,1988,1989,1990,1991,1992,1993,1994,1995,1996,1997,1998,1999,2000,2001,2002,2003,2004,2005,2006],"tickCount":40,"format":"d","labelExpr":"(datum.value-1982)%4==0 ? datum.label : ''","grid":false,"labelFlush":false}},
  "y":{"datum":436,"type":"quantitative","axis":{"values":[0,100,200,300,400,500],"tickCount":40,"format":"d"}},
  "text":{"field":"label","type":"nominal"}}}
]
}
]
}]
}
